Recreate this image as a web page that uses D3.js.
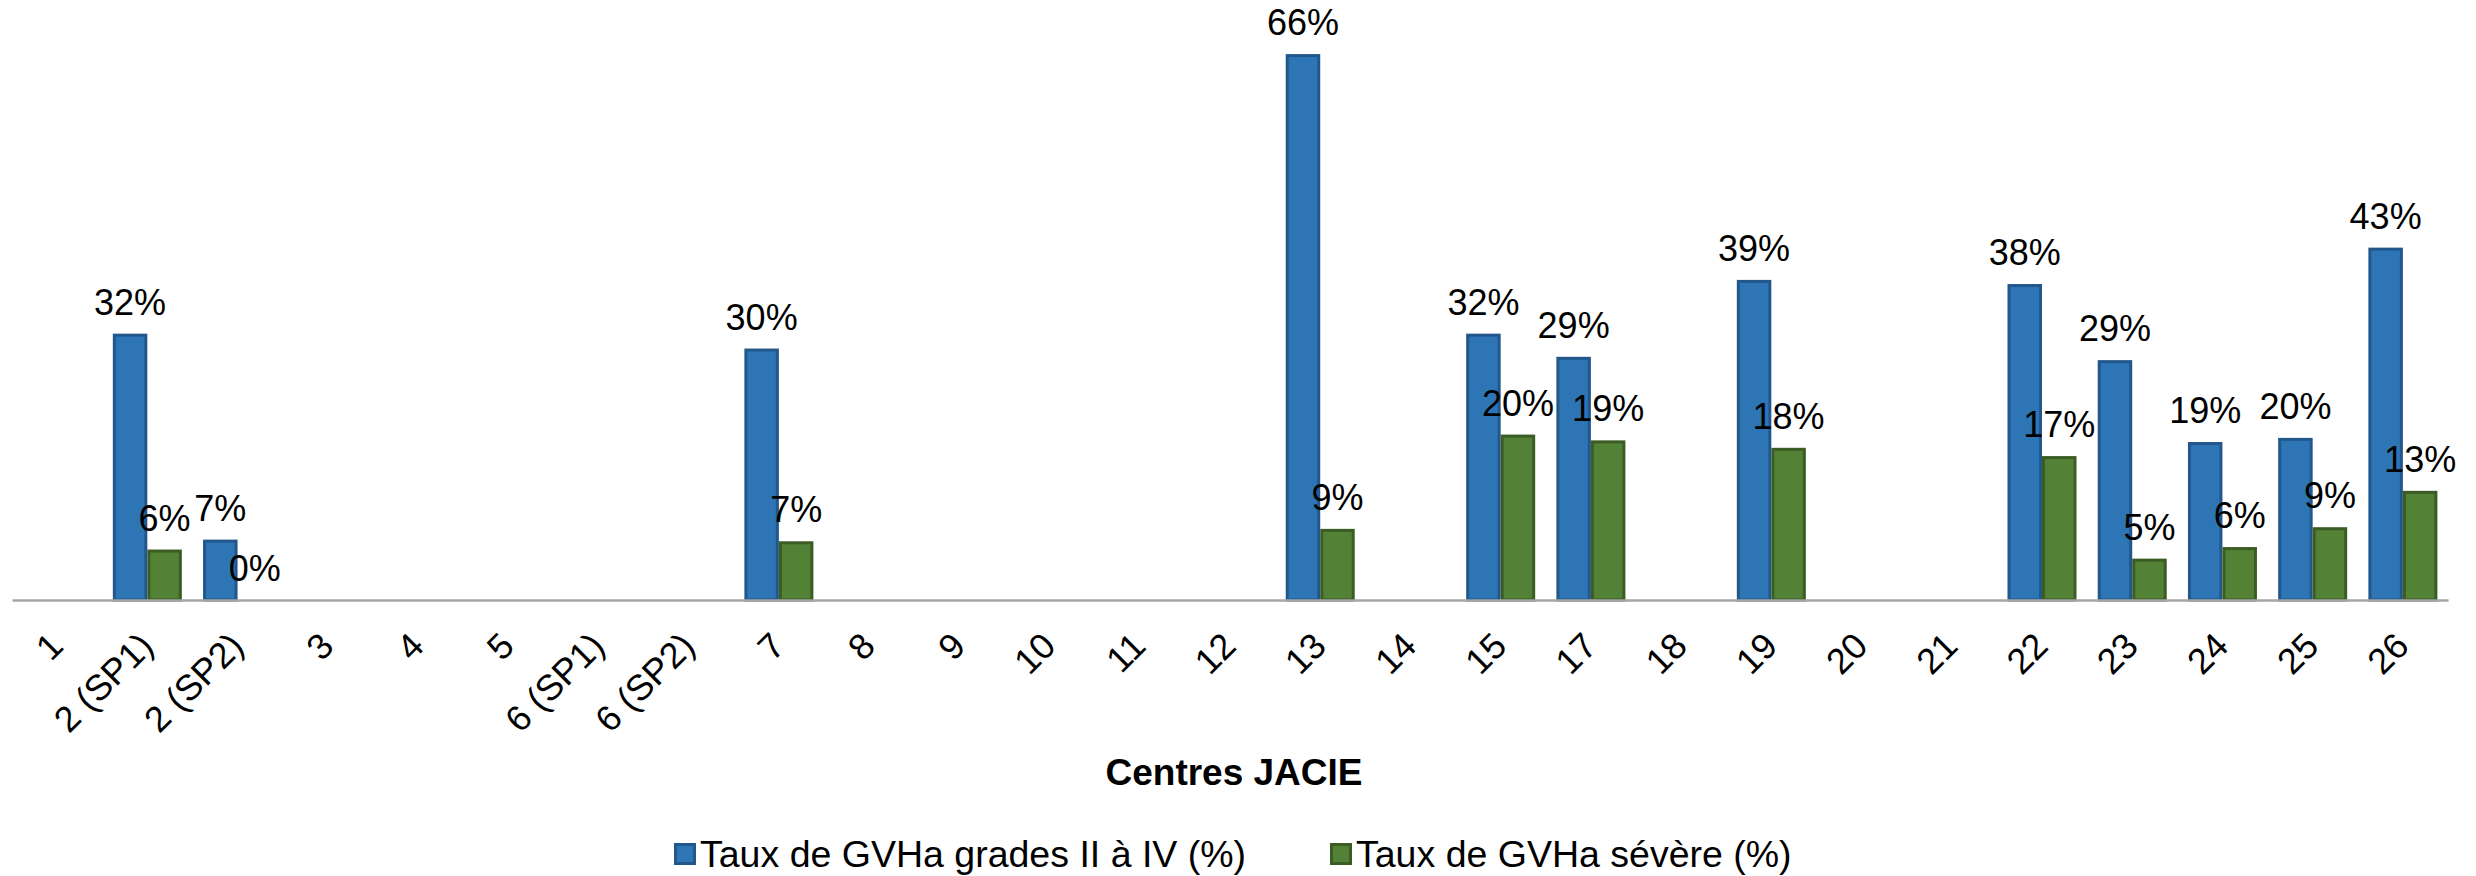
<!DOCTYPE html>
<html>
<head>
<meta charset="utf-8">
<script src="https://cdn.jsdelivr.net/npm/d3@7"></script>
<style>
  body { margin: 0; background: #fff; }
  text { font-family: "Liberation Sans", Arial, sans-serif; fill: #000; }
</style>
</head>
<body>
<div id="chart"></div>
<script>
// centres JACIE (16 is not in the list)
var categories = ["1", "2 (SP1)", "2 (SP2)", "3", "4", "5", "6 (SP1)", "6 (SP2)", "7", "8", "9", "10", "11", "12",
    "13", "14", "15", "17", "18", "19", "20", "21", "22", "23", "24", "25", "26"];

// Taux de GVHa grades II a IV (%)
var gradesII_IV = [null, 32.2, 7.3, null, null, null, null, null, 30.4, null, null, null, null, null,
    66.0, null, 32.2, 29.4, null, 38.7, null, null, 38.2, 29.0, 19.1, 19.6, 42.6];

// Taux de GVHa severe (%)
var severe = [null, 6.1, 0, null, null, null, null, null, 7.1, null, null, null, null, null,
    8.6, null, 20.0, 19.3, null, 18.4, null, null, 17.4, 5.0, 6.4, 8.8, 13.2];

var seriesNames = ["Taux de GVHa grades II à IV (%)", "Taux de GVHa sévère (%)"];

var width = 2476;
var height = 876;
var margin = { top: 21, right: 28, bottom: 276, left: 12 };

var fills = ["#2e75b6", "#538135"];
var strokes = ["#22578c", "#3b5d25"];

var svg = d3.select("#chart").append("svg")
    .attr("width", width)
    .attr("height", height);

var x0 = d3.scaleBand()
    .domain(categories)
    .range([margin.left, width - margin.right])
    .paddingInner(0.235)
    .paddingOuter(0.1175);

var x1 = d3.scaleBand()
    .domain([0, 1])
    .range([0, x0.bandwidth()]);

var y = d3.scaleLinear()
    .domain([0, 70])
    .range([height - margin.bottom, margin.top]);

var rows = [];
categories.forEach(function (c, i) {
    rows.push({ cat: c, s: 0, value: gradesII_IV[i] });
    rows.push({ cat: c, s: 1, value: severe[i] });
});
rows = rows.filter(function (d) { return d.value != null; });

// bars
svg.append("g")
    .selectAll("rect")
    .data(rows)
    .enter().append("rect")
    .attr("x", function (d) { return x0(d.cat) + x1(d.s) + 1.5; })
    .attr("y", function (d) { return y(d.value) + 1.5; })
    .attr("width", x1.bandwidth() - 3)
    .attr("height", function (d) { return Math.max(0, y(0) - y(d.value) - 1.5); })
    .attr("fill", function (d) { return fills[d.s]; })
    .attr("stroke", function (d) { return strokes[d.s]; })
    .attr("stroke-width", 3)
    .attr("display", function (d) { return d.value > 0 ? null : "none"; });

// x axis line
svg.append("g")
    .attr("transform", `translate(0,${y(0)})`)
    .call(d3.axisBottom(x0).tickSize(0).tickSizeOuter(0).tickFormat(""))
    .call(g => g.select(".domain").attr("stroke", "#a6a6a6").attr("stroke-width", 2.5))
    .call(g => g.selectAll(".tick").remove());

// rotated category labels
svg.append("g")
    .selectAll("text")
    .data(categories)
    .enter().append("text")
    .attr("transform", function (d) {
        return `translate(${x0(d) + x0.bandwidth() / 2 + 8},${y(0) + 48}) rotate(-45)`;
    })
    .attr("text-anchor", "end")
    .attr("font-size", 36)
    .text(function (d) { return d; });

// data labels
svg.append("g")
    .selectAll("text")
    .data(rows)
    .enter().append("text")
    .attr("x", function (d) { return x0(d.cat) + x1(d.s) + x1.bandwidth() / 2; })
    .attr("y", function (d) { return y(d.value) - 19; })
    .attr("text-anchor", "middle")
    .attr("font-size", 36)
    .text(function (d) { return Math.round(d.value) + "%"; });

// axis title
svg.append("text")
    .attr("x", (margin.left + width - margin.right) / 2 + 4)
    .attr("y", 785)
    .attr("text-anchor", "middle")
    .attr("font-size", 37)
    .attr("font-weight", "bold")
    .text("Centres JACIE");

// legend
var legendX = [674, 1330];
var legend = svg.append("g")
    .selectAll("g")
    .data(seriesNames)
    .enter().append("g")
    .attr("transform", function (d, i) { return `translate(${legendX[i]},843)`; });

legend.append("rect")
    .attr("x", 1.5).attr("y", 1.5)
    .attr("width", 19).attr("height", 19)
    .attr("fill", function (d, i) { return fills[i]; })
    .attr("stroke", function (d, i) { return strokes[i]; })
    .attr("stroke-width", 3);

legend.append("text")
    .attr("x", 26)
    .attr("y", 24)
    .attr("font-size", 37.5)
    .text(function (d) { return d; });
</script>
</body>
</html>
